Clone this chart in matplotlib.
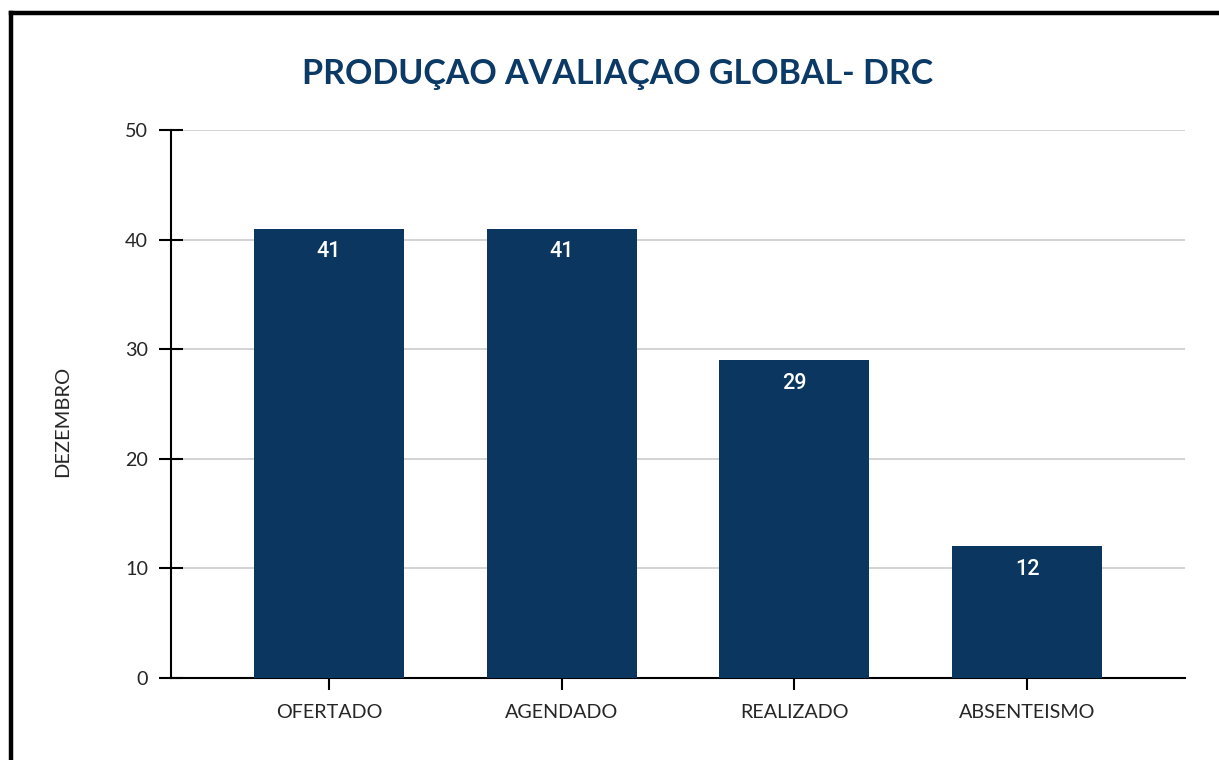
import matplotlib
matplotlib.use("Agg")
import matplotlib.pyplot as plt
from matplotlib.lines import Line2D

categories = ["OFERTADO", "AGENDADO", "REALIZADO", "ABSENTEISMO"]
values = [41, 41, 29, 12]
yticks = [0, 10, 20, 30, 40, 50]
title = "PRODUÇAO AVALIAÇAO GLOBAL- DRC"
ylabel = "DEZEMBRO"

bar_color = "#0a365f"
title_color = "#0b3a67"
text_color = "#262626"

plt.rcParams['font.family'] = ['Lato', 'DejaVu Sans']

W, H = 1219, 760
fig = plt.figure(figsize=(W / 100, H / 100), dpi=100)
ax = fig.add_axes([171 / W, 1 - 678 / H, (1185 - 171) / W, (678 - 130) / H])

x = list(range(len(categories)))
bars = ax.bar(x, values, width=0.645, color=bar_color, zorder=3)
for b, v in zip(bars, values):
    ax.text(b.get_x() + b.get_width() / 2, v - 2.1, str(v), ha="center", va="center",
            color="white", fontsize=15.5, fontfamily=["Roboto", "DejaVu Sans"],
            fontweight="medium", zorder=4)

ax.set_xlim(-0.678, 3.678)
ax.set_ylim(0, 50)
ax.set_yticks(yticks)
ax.set_xticks(x)
ax.set_xticklabels(categories)
ax.yaxis.grid(True, color="#d0d0d0", linewidth=1.3, zorder=0)
ax.set_axisbelow(True)
for s in ["top", "right"]:
    ax.spines[s].set_visible(False)
ax.spines["left"].set_linewidth(1.5)
ax.spines["bottom"].set_linewidth(1.5)
ax.tick_params(axis="both", direction="inout", length=17, width=1.5, colors="black",
               labelcolor=text_color, labelsize=14.2)
ax.tick_params(axis="y", pad=8)
ax.tick_params(axis="x", pad=10)
ax.set_ylabel(ylabel, fontsize=14.5, color=text_color)
ax.yaxis.set_label_coords(-0.0986, 0.469)

fig.text(618 / W, 1 - 74 / H, title, ha="center", va="center", fontsize=24.5,
         fontweight="bold", color=title_color)

# frame border (top and left)
fig.add_artist(Line2D([11 / W, 11 / W], [0, 1 - 13 / H], transform=fig.transFigure,
                      color="black", linewidth=3.2, solid_capstyle="projecting"))
fig.add_artist(Line2D([11 / W, 1], [1 - 13 / H, 1 - 13 / H], transform=fig.transFigure,
                      color="black", linewidth=3.2, solid_capstyle="projecting"))

fig.savefig("out.png", dpi=100)
